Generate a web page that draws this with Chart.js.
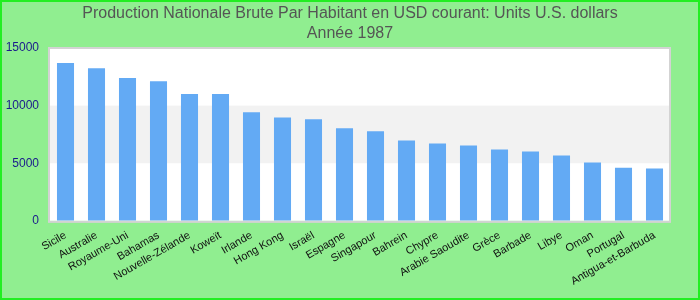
<!DOCTYPE html>
<html>
<head>
<meta charset="utf-8">
<script src="https://cdn.jsdelivr.net/npm/chart.js@4/dist/chart.umd.min.js"></script>
<style>
  html, body { margin: 0; padding: 0; background: #90ee90; }
  #wrap { width: 700px; height: 300px; }
</style>
</head>
<body>
<div id="wrap"><canvas id="chart" width="700" height="300"></canvas></div>
<script>
const countries = ['Sicile', 'Australie', 'Royaume-Uni', 'Bahamas', 'Nouvelle-Zélande', 'Koweït', 'Irlande',
  'Hong Kong', 'Israël', 'Espagne', 'Singapour', 'Bahrein', 'Chypre', 'Arabie Saoudite', 'Grèce',
  'Barbade', 'Libye', 'Oman', 'Portugal', 'Antigua-et-Barbuda'];
const gnpPerCapita = [13700, 13250, 12400, 12120, 11000, 11000, 9420, 8980, 8810, 8030,
  7770, 6980, 6720, 6540, 6190, 6020, 5670, 5060, 4620, 4540];
const yTicks = [0, 5000, 10000, 15000];
const titleLines = ['Production Nationale Brute Par Habitant en USD courant: Units U.S. dollars', 'Année 1987'];

// plot background with alternating bands, plot frame and outer border
const decor = {
  id: 'decor',
  beforeDraw(chart) {
    const { ctx, chartArea: a, scales: { y } } = chart;
    ctx.save();
    ctx.fillStyle = '#90ee90';
    ctx.fillRect(0, 0, chart.width, chart.height);
    ctx.fillStyle = '#ffffff';
    ctx.fillRect(a.left, a.top, a.right - a.left, a.bottom - a.top);
    for (let i = 0; i < yTicks.length - 1; i++) {
      if (i % 2 === 1) {
        const y0 = y.getPixelForValue(yTicks[i + 1]);
        const y1 = y.getPixelForValue(yTicks[i]);
        ctx.fillStyle = '#f2f2f2';
        ctx.fillRect(a.left, y0, a.right - a.left, y1 - y0);
      }
    }
    ctx.restore();
  },
  afterDraw(chart) {
    const { ctx, chartArea: a } = chart;
    ctx.save();
    ctx.strokeStyle = '#d3d3d3';
    ctx.lineWidth = 2;
    ctx.strokeRect(a.left - 1, a.top, a.right - a.left + 1, a.bottom - a.top + 1);
    ctx.strokeStyle = '#22ee22';
    ctx.lineWidth = 2;
    ctx.strokeRect(1, 1, chart.width - 2, chart.height - 2);
    ctx.restore();
  }
};

new Chart(document.getElementById('chart'), {
  type: 'bar',
  data: {
    labels: countries,
    datasets: [{
      data: gnpPerCapita,
      backgroundColor: '#63aaf4',
      barPercentage: 0.55,
      categoryPercentage: 1.0
    }]
  },
  options: {
    responsive: false,
    animation: false,
    layout: { padding: { left: 0, right: 0, top: 2, bottom: 12 } },
    plugins: {
      legend: { display: false },
      tooltip: { enabled: false },
      title: {
        display: true,
        text: titleLines,
        color: '#555555',
        font: { family: 'Liberation Sans, Arial', size: 16, weight: 'normal', lineHeight: 1.25 },
        padding: { top: 2, bottom: 4 }
      }
    },
    scales: {
      x: {
        grid: { display: false },
        border: { display: false },
        ticks: {
          color: '#111111',
          font: { family: 'Liberation Sans, Arial', size: 11 },
          maxRotation: 30,
          minRotation: 30,
          autoSkip: false,
          padding: 0
        }
      },
      y: {
        min: 0,
        max: 15000,
        grid: { display: false, drawTicks: false },
        border: { display: false },
        afterBuildTicks(axis) { axis.ticks = yTicks.map(v => ({ value: v })); },
        afterFit(axis) { axis.width = 50; },
        ticks: {
          color: '#1a1a8c',
          font: { family: 'Liberation Sans, Arial', size: 12 },
          padding: 11,
          callback: v => String(v)
        }
      },
      // empty right axis, only reserves the right margin
      yRight: {
        position: 'right',
        grid: { display: false, drawTicks: false },
        border: { display: false },
        ticks: { display: false },
        afterFit(axis) { axis.width = 30; }
      }
    }
  },
  plugins: [decor]
});
</script>
</body>
</html>
